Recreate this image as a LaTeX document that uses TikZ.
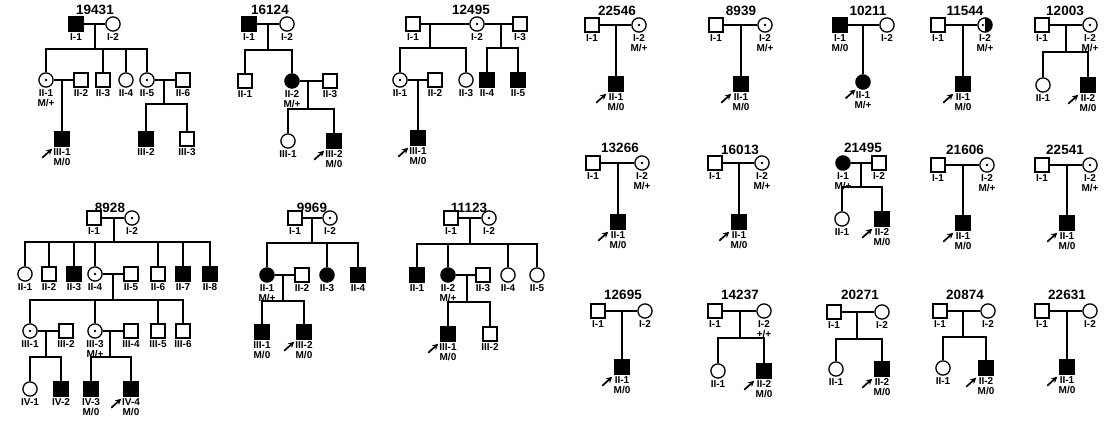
\documentclass[tikz,border=0pt]{standalone}
\usepackage{fontspec}
\setmainfont{Liberation Sans}
\usetikzlibrary{arrows.meta}
\tikzset{
  sym/.style={draw, line width=1.3pt, inner sep=0pt, minimum size=14.2pt},
  ml/.style={sym, rectangle},
  fm/.style={sym, circle},
  af/.style={fill=black},
  cr/.style={path picture={\fill[black] (path picture bounding box.center) circle[radius=1.3pt];}},
  hf/.style={path picture={\fill[black] (path picture bounding box.north) rectangle (path picture bounding box.south east); \fill[black] ([xshift=-2.2pt]path picture bounding box.center) circle[radius=1.3pt];}},
  lab/.style={font=\fontsize{10}{10}\selectfont\bfseries, align=center, inner sep=0pt, label distance=1.2pt},
  ttl/.style={font=\fontsize{13.5}{14}\selectfont\bfseries, inner sep=0pt},
  ln/.style={line width=1.3pt},
  pb/.style={-{Stealth[length=6pt,width=6pt]}, line width=1.7pt},
}
\newcommand{\Ind}[4]{\node[#1,label={[lab]below:{#4}}] (#2) at (#3) {};}
\newcommand{\Prob}[1]{\draw[pb] ([shift={(-12pt,-11pt)}]#1.south west) -- ([shift={(-2pt,-2pt)}]#1.south west);}
\begin{document}
\begin{tikzpicture}[x=1pt,y=-1pt]
\useasboundingbox (0,0) rectangle (1104,423);
% ---------- 19431
\node[ttl] (t1) at (95,10) {19431};
\Ind{ml,af}{a11}{76,24}{I-1}
\Ind{fm}{a12}{113,24}{I-2}
\draw[ln] (a11) -- (a12);
\coordinate (am) at (95,24); \coordinate (ad) at (95,49);
\Ind{fm,cr}{a21}{46,80}{II-1\\M/+}
\Ind{ml}{a22}{81,80}{II-2}
\Ind{ml}{a23}{103,80}{II-3}
\Ind{fm}{a24}{126,80}{II-4}
\Ind{fm,cr}{a25}{147,80}{II-5}
\Ind{ml}{a26}{183,80}{II-6}
\draw[ln] (am) -- (ad);
\draw[ln] (a21.north) |- (ad) -| (a25.north);
\draw[ln] (a23.north) -- (a23.north |- ad);
\draw[ln] (a24.north) -- (a24.north |- ad);
\draw[ln] (a21) -- (a22);
\coordinate (am2) at (62,80);
\Ind{ml,af}{a31}{62,139}{III-1\\M/0}
\draw[ln] (am2) -- (a31.north);
\Prob{a31}
\draw[ln] (a25) -- (a26);
\coordinate (am3) at (164,80); \coordinate (ad3) at (164,104);
\Ind{ml,af}{a32}{146,139}{III-2}
\Ind{ml}{a33}{187,139}{III-3}
\draw[ln] (am3) -- (ad3);
\draw[ln] (a32.north) |- (ad3) -| (a33.north);
% ---------- 16124
\node[ttl] (t2) at (270,10) {16124};
\Ind{ml,af}{b11}{249,24}{I-1}
\Ind{fm}{b12}{287,24}{I-2}
\draw[ln] (b11) -- (b12);
\coordinate (bm) at (268,24); \coordinate (bd) at (268,50);
\Ind{ml}{b21}{245,81}{II-1}
\Ind{fm,af}{b22}{292,81}{II-2\\M/+}
\Ind{ml}{b23}{330,81}{II-3}
\draw[ln] (bm) -- (bd);
\draw[ln] (b21.north) |- (bd) -| (b22.north);
\draw[ln] (b22) -- (b23);
\coordinate (bm2) at (308,81); \coordinate (bd2) at (308,109);
\Ind{fm}{b31}{288,141}{III-1}
\Ind{ml,af}{b32}{334,141}{III-2\\M/0}
\draw[ln] (bm2) -- (bd2);
\draw[ln] (b31.north) |- (bd2) -| (b32.north);
\Prob{b32}
% ---------- 12495
\node[ttl] (t3) at (471,10) {12495};
\Ind{ml}{c11}{413,24}{I-1}
\Ind{fm,cr}{c12}{477,24}{I-2}
\Ind{ml}{c13}{520,24}{I-3}
\draw[ln] (c11) -- (c12);
\draw[ln] (c12) -- (c13);
\coordinate (cm1) at (430,24); \coordinate (cd1) at (430,48);
\coordinate (cm2) at (501,24); \coordinate (cd2) at (501,48);
\Ind{fm,cr}{c21}{400,80}{II-1}
\Ind{ml}{c22}{435,80}{II-2}
\Ind{fm}{c23}{466,80}{II-3}
\Ind{ml,af}{c24}{487,80}{II-4}
\Ind{ml,af}{c25}{518,80}{II-5}
\draw[ln] (cm1) -- (cd1);
\draw[ln] (c21.north) |- (cd1) -| (c23.north);
\draw[ln] (cm2) -- (cd2);
\draw[ln] (c24.north) |- (cd2) -| (c25.north);
\draw[ln] (c21) -- (c22);
\coordinate (cm3) at (418,80);
\Ind{ml,af}{c31}{418,138}{III-1\\M/0}
\draw[ln] (cm3) -- (c31.north);
\Prob{c31}
% ---------- 8928
\node[ttl] (t4) at (110,208) {8928};
\Ind{ml}{d11}{94,218}{I-1}
\Ind{fm,cr}{d12}{132,218}{I-2}
\draw[ln] (d11) -- (d12);
\coordinate (dm) at (114,218); \coordinate (dd) at (114,242);
\Ind{fm}{d21}{25,274}{II-1}
\Ind{ml}{d22}{49,274}{II-2}
\Ind{ml,af}{d23}{74,274}{II-3}
\Ind{fm,cr}{d24}{95,274}{II-4}
\Ind{ml}{d25}{131,274}{II-5}
\Ind{ml}{d26}{158,274}{II-6}
\Ind{ml,af}{d27}{183,274}{II-7}
\Ind{ml,af}{d28}{210,274}{II-8}
\draw[ln] (dm) -- (dd);
\draw[ln] (d21.north) |- (dd) -| (d28.north);
\foreach \n in {d22,d23,d24,d26,d27} \draw[ln] (\n.north) -- (\n.north |- dd);
\draw[ln] (d24) -- (d25);
\coordinate (dm2) at (113,274); \coordinate (dd2) at (113,300);
\Ind{fm,cr}{d31}{30,331}{III-1}
\Ind{ml}{d32}{66,331}{III-2}
\Ind{fm,cr}{d33}{95,331}{III-3\\M/+}
\Ind{ml}{d34}{131,331}{III-4}
\Ind{ml}{d35}{158,331}{III-5}
\Ind{ml}{d36}{183,331}{III-6}
\draw[ln] (dm2) -- (dd2);
\draw[ln] (d31.north) |- (dd2) -| (d36.north);
\foreach \n in {d33,d35} \draw[ln] (\n.north) -- (\n.north |- dd2);
\draw[ln] (d31) -- (d32);
\draw[ln] (d33) -- (d34);
\coordinate (dm3) at (46,331); \coordinate (dd3) at (46,357);
\coordinate (dm4) at (110,331); \coordinate (dd4) at (110,357);
\Ind{fm}{d41}{30,389}{IV-1}
\Ind{ml,af}{d42}{61,389}{IV-2}
\Ind{ml,af}{d43}{91,389}{IV-3\\M/0}
\Ind{ml,af}{d44}{131,389}{IV-4\\M/0}
\draw[ln] (dm3) -- (dd3);
\draw[ln] (d41.north) |- (dd3) -| (d42.north);
\draw[ln] (dm4) -- (dd4);
\draw[ln] (d43.north) |- (dd4) -| (d44.north);
\Prob{d44}
% ---------- 9969
\node[ttl] (t5) at (312,208) {9969};
\Ind{ml}{e11}{295,218}{I-1}
\Ind{fm,cr}{e12}{330,218}{I-2}
\draw[ln] (e11) -- (e12);
\coordinate (em) at (312,218); \coordinate (ed) at (312,243);
\Ind{fm,af}{e21}{267,275}{II-1\\M/+}
\Ind{ml}{e22}{302,275}{II-2}
\Ind{fm,af}{e23}{327,275}{II-3}
\Ind{ml,af}{e24}{358,275}{II-4}
\draw[ln] (em) -- (ed);
\draw[ln] (e21.north) |- (ed) -| (e24.north);
\draw[ln] (e23.north) -- (e23.north |- ed);
\draw[ln] (e21) -- (e22);
\coordinate (em2) at (283,275); \coordinate (ed2) at (283,301);
\Ind{ml,af}{e31}{262,332}{III-1\\M/0}
\Ind{ml,af}{e32}{304,332}{III-2\\M/0}
\draw[ln] (em2) -- (ed2);
\draw[ln] (e31.north) |- (ed2) -| (e32.north);
\Prob{e32}
% ---------- 11123
\node[ttl] (t6) at (469,208) {11123};
\Ind{ml}{f11}{451,218}{I-1}
\Ind{fm,cr}{f12}{489,218}{I-2}
\draw[ln] (f11) -- (f12);
\coordinate (fm0) at (470,218); \coordinate (fd) at (470,244);
\Ind{ml,af}{f21}{417,275}{II-1}
\Ind{fm,af}{f22}{448,275}{II-2\\M/+}
\Ind{ml}{f23}{483,275}{II-3}
\Ind{fm}{f24}{508,275}{II-4}
\Ind{fm}{f25}{537,275}{II-5}
\draw[ln] (fm0) -- (fd);
\draw[ln] (f21.north) |- (fd) -| (f25.north);
\foreach \n in {f22,f24} \draw[ln] (\n.north) -- (\n.north |- fd);
\draw[ln] (f22) -- (f23);
\coordinate (fm2) at (467,275); \coordinate (fd2) at (467,302);
\Ind{ml,af}{f31}{448,334}{III-1\\M/0}
\Ind{ml}{f32}{490,334}{III-2}
\draw[ln] (fm2) -- (fd2);
\draw[ln] (f31.north) |- (fd2) -| (f32.north);
\Prob{f31}
% ---------- 22546
\node[ttl] (t7) at (617,11) {22546};
\Ind{ml}{g11}{592,25}{I-1}
\Ind{fm,cr}{g12}{639,25}{I-2\\M/+}
\draw[ln] (g11) -- (g12);
\coordinate (gm) at (616,25);
\Ind{ml,af}{g21}{616,84}{II-1\\M/0}
\draw[ln] (gm) -- (g21.north);
\Prob{g21}
% ---------- 8939
\node[ttl] (t8) at (741,11) {8939};
\Ind{ml}{h11}{716,25}{I-1}
\Ind{fm,cr}{h12}{765,25}{I-2\\M/+}
\draw[ln] (h11) -- (h12);
\coordinate (hm) at (741,25);
\Ind{ml,af}{h21}{741,84}{II-1\\M/0}
\draw[ln] (hm) -- (h21.north);
\Prob{h21}
% ---------- 10211
\node[ttl] (t9) at (868,11) {10211};
\Ind{ml,af}{i11}{840,25}{I-1\\M/0}
\Ind{fm}{i12}{887,25}{I-2}
\draw[ln] (i11) -- (i12);
\coordinate (im) at (863,25);
\Ind{fm,af}{i21}{863,82}{II-1\\M/+}
\draw[ln] (im) -- (i21.north);
\Prob{i21}
% ---------- 11544
\node[ttl] (t10) at (965,11) {11544};
\Ind{ml}{j11}{938,25}{I-1}
\Ind{fm,hf}{j12}{985,25}{I-2\\M/+}
\draw[ln] (j11) -- (j12);
\coordinate (jm) at (963,25);
\Ind{ml,af}{j21}{963,84}{II-1\\M/0}
\draw[ln] (jm) -- (j21.north);
\Prob{j21}
% ---------- 12003
\node[ttl] (t11) at (1065,11) {12003};
\Ind{ml}{k11}{1042,25}{I-1}
\Ind{fm,cr}{k12}{1090,25}{I-2\\M/+}
\draw[ln] (k11) -- (k12);
\coordinate (km) at (1066,25); \coordinate (kd) at (1066,52);
\Ind{fm}{k21}{1043,85}{II-1}
\Ind{ml,af}{k22}{1088,85}{II-2\\M/0}
\draw[ln] (km) -- (kd);
\draw[ln] (k21.north) |- (kd) -| (k22.north);
\Prob{k22}
% ---------- 13266
\node[ttl] (t12) at (620,148) {13266};
\Ind{ml}{l11}{593,163}{I-1}
\Ind{fm,cr}{l12}{642,163}{I-2\\M/+}
\draw[ln] (l11) -- (l12);
\coordinate (lm) at (618,163);
\Ind{ml,af}{l21}{618,222}{II-1\\M/0}
\draw[ln] (lm) -- (l21.north);
\Prob{l21}
% ---------- 16013
\node[ttl] (t13) at (740,150) {16013};
\Ind{ml}{n11}{715,163}{I-1}
\Ind{fm,cr}{n12}{762,163}{I-2\\M/+}
\draw[ln] (n11) -- (n12);
\coordinate (nm) at (739,163);
\Ind{ml,af}{n21}{739,222}{II-1\\M/0}
\draw[ln] (nm) -- (n21.north);
\Prob{n21}
% ---------- 21495
\node[ttl] (t14) at (863,148) {21495};
\Ind{fm,af}{o11}{843,163}{I-1\\M/+}
\Ind{ml}{o12}{879,163}{I-2}
\draw[ln] (o11) -- (o12);
\coordinate (om) at (861,163); \coordinate (od) at (861,187);
\Ind{fm}{o21}{842,219}{II-1}
\Ind{ml,af}{o22}{882,219}{II-2\\M/0}
\draw[ln] (om) -- (od);
\draw[ln] (o21.north) |- (od) -| (o22.north);
\Prob{o22}
% ---------- 21606
\node[ttl] (t15) at (965,150) {21606};
\Ind{ml}{p11}{938,165}{I-1}
\Ind{fm,cr}{p12}{987,165}{I-2\\M/+}
\draw[ln] (p11) -- (p12);
\coordinate (pm) at (963,165);
\Ind{ml,af}{p21}{963,223}{II-1\\M/0}
\draw[ln] (pm) -- (p21.north);
\Prob{p21}
% ---------- 22541
\node[ttl] (t16) at (1065,150) {22541};
\Ind{ml}{q11}{1042,165}{I-1}
\Ind{fm,cr}{q12}{1090,165}{I-2\\M/+}
\draw[ln] (q11) -- (q12);
\coordinate (qm) at (1067,165);
\Ind{ml,af}{q21}{1067,223}{II-1\\M/0}
\draw[ln] (qm) -- (q21.north);
\Prob{q21}
% ---------- 12695
\node[ttl] (t17) at (623,295) {12695};
\Ind{ml}{r11}{598,311}{I-1}
\Ind{fm}{r12}{645,311}{I-2}
\draw[ln] (r11) -- (r12);
\coordinate (rm) at (622,311);
\Ind{ml,af}{r21}{622,367}{II-1\\M/0}
\draw[ln] (rm) -- (r21.north);
\Prob{r21}
% ---------- 14237
\node[ttl] (t18) at (740,295) {14237};
\Ind{ml}{s11}{715,311}{I-1}
\Ind{fm}{s12}{764,311}{I-2\\+/+}
\draw[ln] (s11) -- (s12);
\coordinate (sm) at (740,311); \coordinate (sd) at (740,338);
\Ind{fm}{s21}{718,371}{II-1}
\Ind{ml,af}{s22}{764,371}{II-2\\M/0}
\draw[ln] (sm) -- (sd);
\draw[ln] (s21.north) |- (sd) -| (s22.north);
\Prob{s22}
% ---------- 20271
\node[ttl] (t19) at (860,295) {20271};
\Ind{ml}{u11}{834,312}{I-1}
\Ind{fm}{u12}{882,312}{I-2}
\draw[ln] (u11) -- (u12);
\coordinate (um) at (857,312); \coordinate (ud) at (857,339);
\Ind{fm}{u21}{836,369}{II-1}
\Ind{ml,af}{u22}{882,369}{II-2\\M/0}
\draw[ln] (um) -- (ud);
\draw[ln] (u21.north) |- (ud) -| (u22.north);
\Prob{u22}
% ---------- 20874
\node[ttl] (t20) at (965,295) {20874};
\Ind{ml}{v11}{940,311}{I-1}
\Ind{fm}{v12}{988,311}{I-2}
\draw[ln] (v11) -- (v12);
\coordinate (vm) at (963,311); \coordinate (vd) at (963,337);
\Ind{fm}{v21}{943,368}{II-1}
\Ind{ml,af}{v22}{986,368}{II-2\\M/0}
\draw[ln] (vm) -- (vd);
\draw[ln] (v21.north) |- (vd) -| (v22.north);
\Prob{v22}
% ---------- 22631
\node[ttl] (t21) at (1067,295) {22631};
\Ind{ml}{w11}{1042,311}{I-1}
\Ind{fm}{w12}{1090,311}{I-2}
\draw[ln] (w11) -- (w12);
\coordinate (wm) at (1067,311);
\Ind{ml,af}{w21}{1067,367}{II-1\\M/0}
\draw[ln] (wm) -- (w21.north);
\Prob{w21}
\end{tikzpicture}
\end{document}
